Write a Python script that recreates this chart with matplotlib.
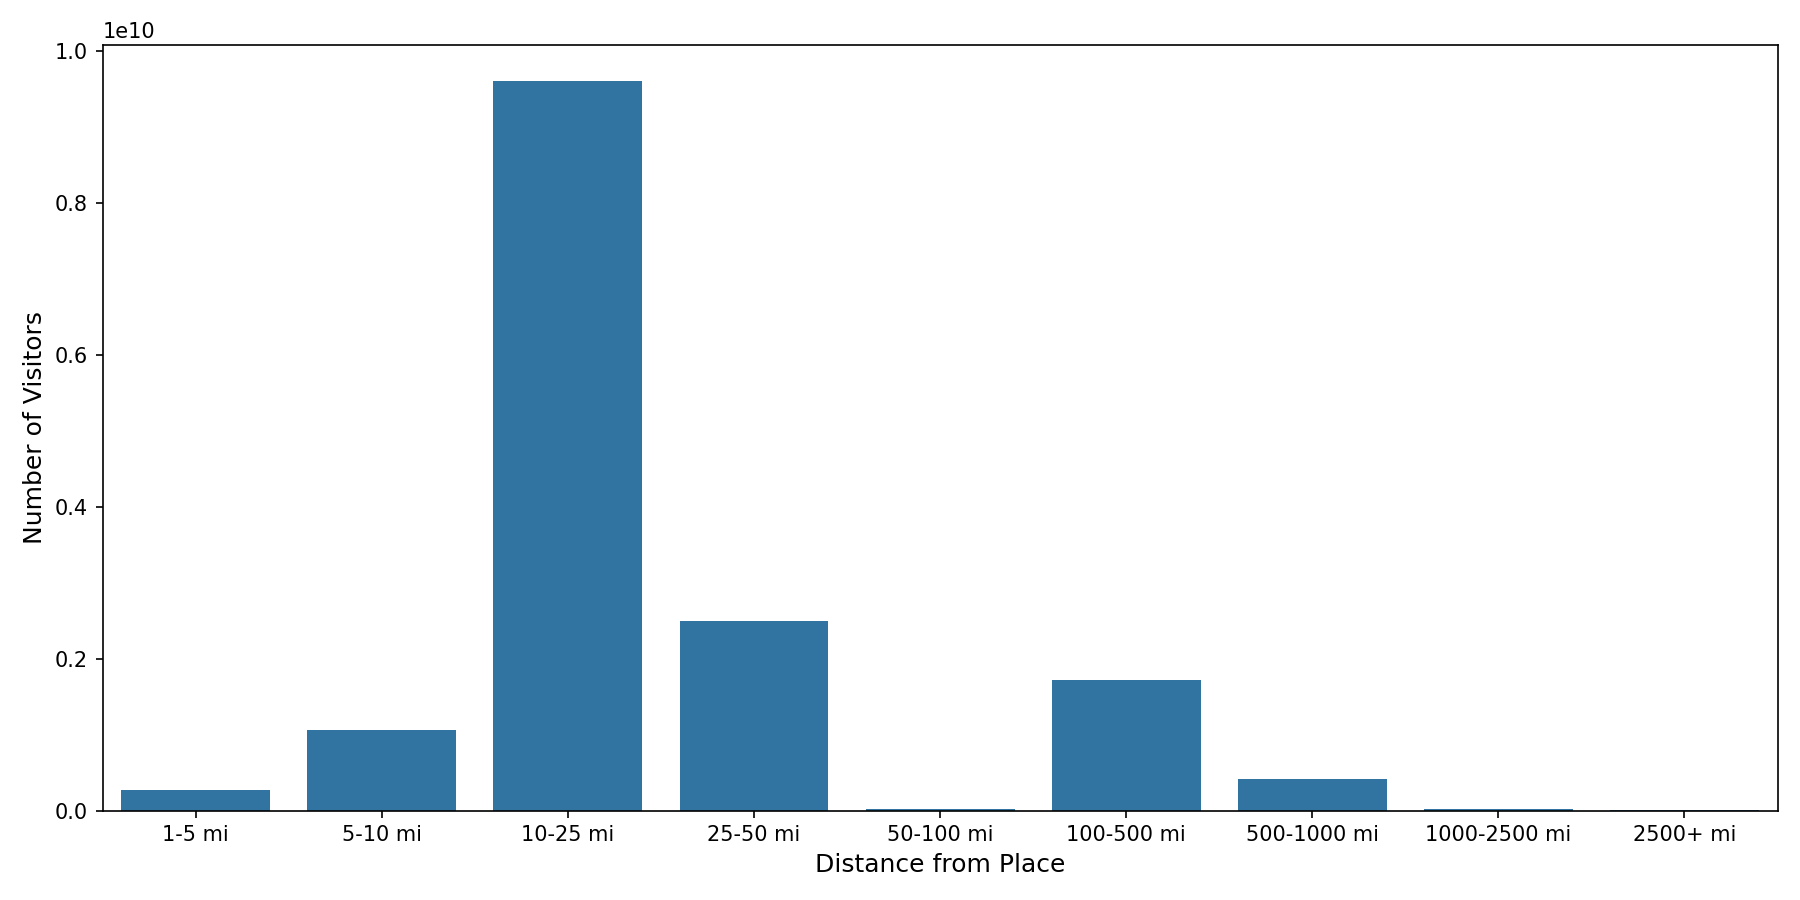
import numpy as np
import matplotlib
matplotlib.use("Agg")
import matplotlib.pyplot as plt
import seaborn as sns

distances = ["1-5 mi", "5-10 mi", "10-25 mi", "25-50 mi", "50-100 mi",
             "100-500 mi", "500-1000 mi", "1000-2500 mi", "2500+ mi"]
visitors = [2.7e8, 1.06e9, 9.6e9, 2.5e9, 2.0e7, 1.72e9, 4.1e8, 1.5e7, 3e6]

fig, ax = plt.subplots(figsize=(12, 6), dpi=150)
sns.barplot(x=distances, y=visitors, ax=ax)
ax.set_xlabel("Distance from Place", fontsize=12)
ax.set_ylabel("Number of Visitors", fontsize=12)
plt.tight_layout()
plt.savefig("out.png")
